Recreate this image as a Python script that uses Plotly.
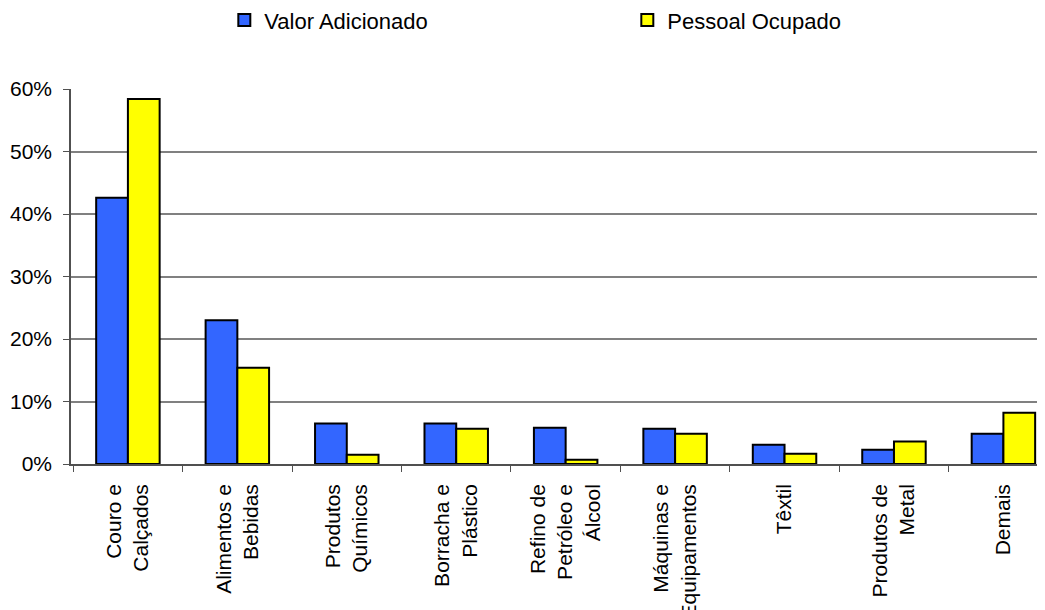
import plotly.graph_objects as go

categories = [
    'Couro e<br>Calçados',
    'Alimentos e<br>Bebidas',
    'Produtos<br>Químicos',
    'Borracha e<br>Plástico',
    'Refino de<br>Petróleo e<br>Álcool',
    'Máquinas e<br>Equipamentos',
    'Têxtil',
    'Produtos de<br>Metal',
    'Demais',
]
valor_adicionado = [0.426, 0.230, 0.065, 0.065, 0.058, 0.0565, 0.031, 0.023, 0.0485]
pessoal_ocupado = [0.584, 0.154, 0.015, 0.0565, 0.007, 0.0485, 0.0165, 0.036, 0.082]

COLORS = {
    'blue': '#3366FF',
    'yellow': '#FFFF00',
    'grid': '#808080',
    'axis': '#505050',
}

fig = go.Figure()
fig.add_trace(go.Bar(
    x=categories, y=valor_adicionado, name='Valor Adicionado',
    marker=dict(color=COLORS['blue'], line=dict(color='black', width=2))
))
fig.add_trace(go.Bar(
    x=categories, y=pessoal_ocupado, name='Pessoal Ocupado',
    marker=dict(color=COLORS['yellow'], line=dict(color='black', width=2))
))

fig.update_layout(
    width=1045, height=610,
    font=dict(family='Liberation Sans, Arial, sans-serif', size=21, color='black'),
    paper_bgcolor='white',
    plot_bgcolor='white',
    margin=dict(l=63, r=8, t=81, b=154),
    barmode='group',
    bargap=0.42,
    bargroupgap=0,
    showlegend=True,
    legend=dict(
        orientation='h', xref='container', yref='container',
        x=0.207, y=0.98, xanchor='left', yanchor='middle',
        entrywidth=358, font=dict(size=22),
    ),
    xaxis=dict(
        range=[-0.52, 8.38],
        tickangle=-90,
        tickson='boundaries',
        ticks='outside', ticklen=6, tickcolor=COLORS['axis'],
        ticklabelstandoff=10,
        automargin=False,
        showline=True, linecolor=COLORS['axis'], linewidth=1.5,
        showgrid=False,
    ),
    yaxis=dict(
        range=[0, 0.6],
        dtick=0.1,
        tickformat='.0%',
        ticks='outside', ticklen=6, tickcolor=COLORS['axis'],
        ticklabelstandoff=7,
        automargin=False,
        showline=True, linecolor=COLORS['axis'], linewidth=1.5,
        showgrid=True, gridcolor=COLORS['grid'], gridwidth=1.5,
        zeroline=False,
    ),
)

fig.write_html('out.html')
